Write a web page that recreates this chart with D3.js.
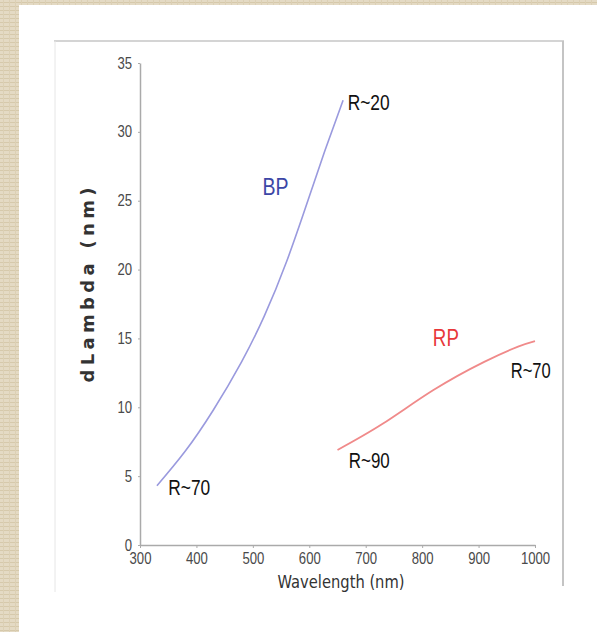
<!DOCTYPE html>
<html>
<head>
<meta charset="utf-8">
<script src="https://cdnjs.cloudflare.com/ajax/libs/d3/7.8.5/d3.min.js"></script>
<style>
  body { margin: 0; background: #e3d9c2; }
  .tick text { font-family: "Liberation Sans", Arial, sans-serif; fill: #4a4a4a; }
  .ann { font-family: "Liberation Sans", Arial, sans-serif; }
</style>
</head>
<body>
<div id="chart"></div>
<script>
// Chart size
var svgWidth = 597;
var svgHeight = 632;

// Data
var xTicks = [300, 400, 500, 600, 700, 800, 900, 1000];
var yTicks = [0, 5, 10, 15, 20, 25, 30, 35];

var bpWave = [330, 380, 430, 480, 520, 560, 600, 630, 660];
var bpDl   = [4.3, 6.8, 9.8, 13.3, 16.6, 20.6, 25.3, 28.9, 32.3];

var rpWave = [650, 730, 820, 910, 970, 1000];
var rpDl   = [6.9, 8.8, 11.25, 13.3, 14.4, 14.8];

// annotations: text, wavelength, dLambda
var labels = [
  {text: "R~20", wl: 668, val: 31.6, color: "#111", size: 22, w: 42},
  {text: "BP", wl: 517, val: 25.4, color: "#3c46a6", size: 24, w: 26},
  {text: "RP", wl: 819, val: 14.45, color: "#e8383a", size: 24, w: 26},
  {text: "R~70", wl: 957, val: 12.1, color: "#111", size: 22, w: 40},
  {text: "R~90", wl: 670, val: 5.6, color: "#111", size: 22, w: 41},
  {text: "R~70", wl: 350, val: 3.65, color: "#111", size: 22, w: 42}
];

var svg = d3.select("#chart").append("svg").attr("width", svgWidth).attr("height", svgHeight);

// textured paper + white sheet
var defs = svg.append("defs");
var pat = defs.append("pattern").attr("id", "paper").attr("width", 6).attr("height", 4).attr("patternUnits", "userSpaceOnUse");
pat.append("rect").attr("width", 6).attr("height", 4).attr("fill", "#e4dac4");
pat.append("rect").attr("y", 2).attr("width", 6).attr("height", 1).attr("fill", "#d6c9ab");
pat.append("rect").attr("x", 3).attr("width", 1).attr("height", 4).attr("fill", "#dcd0b5");
svg.append("rect").attr("width", svgWidth).attr("height", svgHeight).attr("fill", "url(#paper)");
svg.append("rect").attr("x", 19).attr("y", 5).attr("width", svgWidth - 19).attr("height", svgHeight - 5).attr("fill", "#fff");

// inner frame
svg.append("line").attr("x1", 54).attr("x2", 564).attr("y1", 41).attr("y2", 41).attr("stroke", "#d4d4d4").attr("stroke-width", 2);
svg.append("line").attr("x1", 55).attr("x2", 55).attr("y1", 41).attr("y2", 592).attr("stroke", "#e6e6e6").attr("stroke-width", 1);
svg.append("line").attr("x1", 563).attr("x2", 563).attr("y1", 41).attr("y2", 586).attr("stroke", "#c4c4c4").attr("stroke-width", 2);

// scales
var xScale = d3.scaleLinear().domain([300, 1000]).range([140, 535]);
var yScale = d3.scaleLinear().domain([0, 35]).range([545, 63]);

var xAxis = svg.append("g").attr("transform", "translate(0,545)")
  .call(d3.axisBottom(xScale).tickValues(xTicks).tickFormat(d3.format("d")).tickSize(3).tickSizeOuter(0).tickPadding(5));
var yAxis = svg.append("g").attr("transform", "translate(140,0)")
  .call(d3.axisLeft(yScale).tickValues(yTicks).tickFormat(d3.format("d")).tickSize(2).tickSizeOuter(0).tickPadding(6));

svg.selectAll(".domain").attr("stroke", "#aaa").attr("stroke-width", 1.5);
svg.selectAll(".tick line").attr("stroke", "#aaa");
// narrow digits, like the original condensed face
svg.selectAll(".tick text").style("font-size", "16px")
  .attr("textLength", function() { return this.textContent.length * 7.3; })
  .attr("lengthAdjust", "spacingAndGlyphs");

// axis titles
svg.append("text").attr("x", 341).attr("y", 588).attr("text-anchor", "middle")
  .attr("textLength", 127).attr("lengthAdjust", "spacingAndGlyphs")
  .style("font-family", "'DejaVu Sans', sans-serif").style("font-size", "17px")
  .attr("fill", "#333").text("Wavelength (nm)");

svg.append("text").attr("transform", "translate(94,285) rotate(-90)").attr("text-anchor", "middle")
  .attr("textLength", 195).attr("lengthAdjust", "spacing")
  .style("font-family", "'DejaVu Sans', sans-serif").style("font-size", "18px").style("font-weight", "bold")
  .attr("fill", "#333").text("dLambda (nm)");

// curves
var line = d3.line().x(d => xScale(d[0])).y(d => yScale(d[1])).curve(d3.curveNatural);

svg.append("path").datum(bpWave.map((w, i) => [w, bpDl[i]]))
  .attr("d", line).attr("fill", "none").attr("stroke", "#9a9ade").attr("stroke-width", 1.6);

svg.append("path").datum(rpWave.map((w, i) => [w, rpDl[i]]))
  .attr("d", line).attr("fill", "none").attr("stroke", "#f08a8a").attr("stroke-width", 1.8);

// labels
svg.selectAll(".ann").data(labels).enter().append("text")
  .attr("class", "ann")
  .attr("x", d => xScale(d.wl))
  .attr("y", d => yScale(d.val))
  .attr("fill", d => d.color)
  .attr("textLength", d => d.w)
  .attr("lengthAdjust", "spacingAndGlyphs")
  .style("font-size", d => d.size + "px")
  .text(d => d.text);
</script>
</body>
</html>
